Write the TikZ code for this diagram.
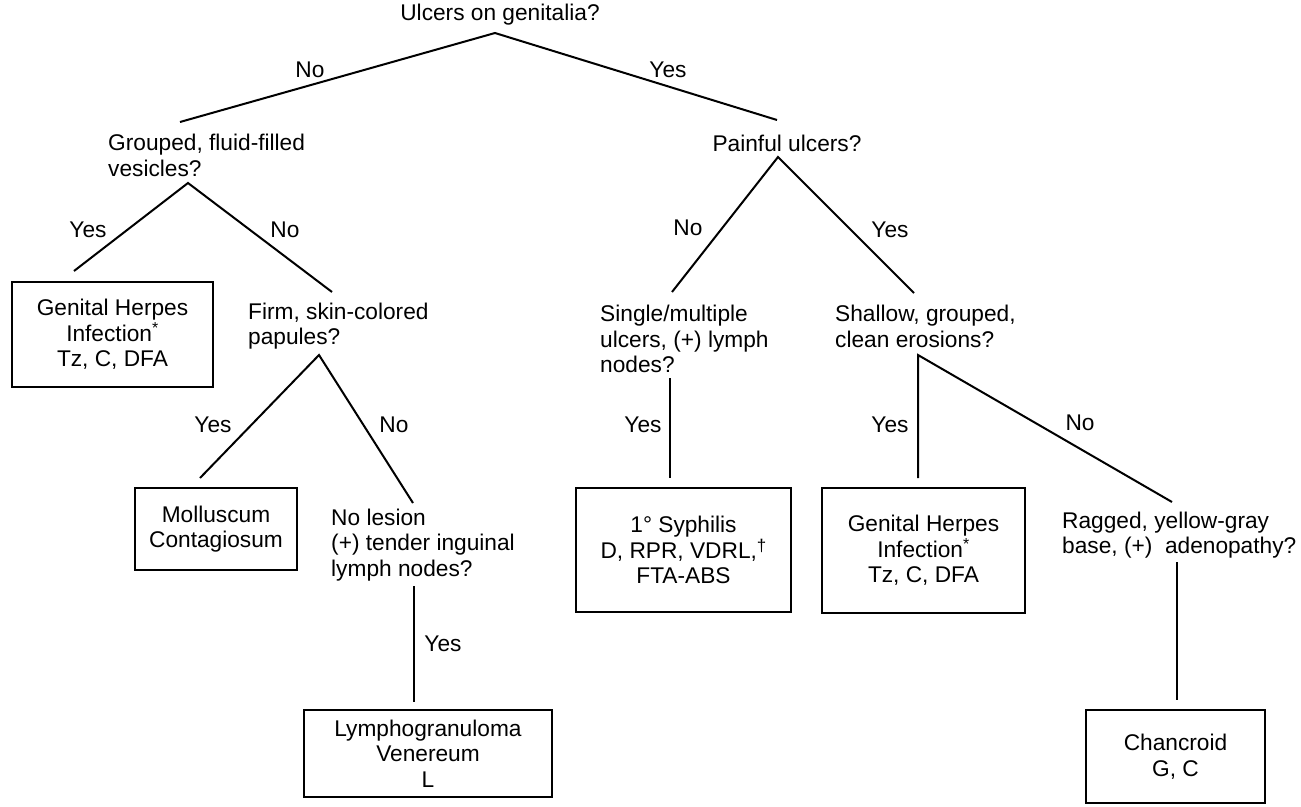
\documentclass[tikz,border=0pt]{standalone}
\usepackage{fontspec}
\setmainfont{Liberation Sans}
\begin{document}
\begin{tikzpicture}[
    x=1pt, y=-1pt,
    every node/.style={font=\fontsize{22.7}{25.5}\selectfont, inner sep=0pt},
    question/.style={anchor=west, align=left},
    result/.style={draw, line width=2.6pt, align=center},
    branch/.style={line width=2pt}
]
    \useasboundingbox (0,0) rectangle (1301,806);

    % Questions
    \node (q0) at (500, 15) {Ulcers on genitalia?};
    \node[question] (q1) at (108, 155.5) {Grouped, fluid-filled\\vesicles?};
    \node[question] (q2) at (248, 326) {Firm, skin-colored\\papules?};
    \node[question] (q3) at (331, 545) {No lesion\\(+) tender inguinal\\lymph nodes?};
    \node (q4) at (787, 143) {Painful ulcers?};
    \node[question] (q5) at (600, 339) {Single/multiple\\ulcers, (+) lymph\\nodes?};
    \node[question] (q6) at (835, 326.5) {Shallow, grouped,\\clean erosions?};
    \node[question] (q7) at (1062, 535) {Ragged, yellow-gray\\base, (+)\ \ adenopathy?};

    % Results
    \node[result, minimum width=201, minimum height=105] (herpesA) at (112.5, 334.5)
        {Genital Herpes\\Infection\textsuperscript{*}\\Tz, C, DFA};
    \node[result, minimum width=162, minimum height=82] (mollusc) at (216, 529)
        {Molluscum\\Contagiosum};
    \node[result, minimum width=248, minimum height=87] (lgv) at (428, 753.5)
        {Lymphogranuloma\\Venereum\\L};
    \node[result, minimum width=215, minimum height=124] (syph) at (683.5, 550)
        {1° Syphilis\\D, RPR, VDRL,\raisebox{0.3em}{\fontsize{17}{17}\selectfont †}\\FTA-ABS};
    \node[result, minimum width=203, minimum height=125] (herpesB) at (923.5, 550.5)
        {Genital Herpes\\Infection\textsuperscript{*}\\Tz, C, DFA};
    \node[result, minimum width=179, minimum height=93] (chanc) at (1175.5, 756.5)
        {Chancroid\\G, C};

    % Branch points
    \coordinate (q0tip) at (495, 33);
    \coordinate (q1top) at (180, 122);
    \coordinate (q4top) at (777, 120);
    \coordinate (q1tip) at (188, 183);
    \coordinate (herpesAtop) at (74, 271);
    \coordinate (q2top) at (332, 292);
    \coordinate (q2tip) at (319, 355);
    \coordinate (mollusctop) at (200, 478);
    \coordinate (q3top) at (413, 503);
    \coordinate (q3tip) at (414, 586);
    \coordinate (lgvtop) at (414, 702);
    \coordinate (q4tip) at (778, 157);
    \coordinate (q5top) at (672, 292);
    \coordinate (q6top) at (914, 293);
    \coordinate (q5tip) at (670, 378);
    \coordinate (syphtop) at (670, 478);
    \coordinate (q6tip) at (918, 355);
    \coordinate (herpesBtop) at (918, 478);
    \coordinate (q7top) at (1172, 502);
    \coordinate (q7tip) at (1177, 562);
    \coordinate (chanctop) at (1177, 700);

    % Branches
    \draw[branch] (q1top) -- (q0tip) -- (q4top);
    \draw[branch] (herpesAtop) -- (q1tip) -- (q2top);
    \draw[branch] (mollusctop) -- (q2tip) -- (q3top);
    \draw[branch] (q3tip) -- (lgvtop);
    \draw[branch] (q5top) -- (q4tip) -- (q6top);
    \draw[branch] (q5tip) -- (syphtop);
    \draw[branch] (herpesBtop) -- (q6tip) -- (q7top);
    \draw[branch] (q7tip) -- (chanctop);

    % Answers
    \node (a0no) at (310, 70) {No};
    \node (a0yes) at (668, 70) {Yes};
    \node (a1yes) at (88, 230) {Yes};
    \node (a1no) at (285, 230) {No};
    \node (a2yes) at (213, 425) {Yes};
    \node (a2no) at (394, 425) {No};
    \node (a3yes) at (443, 644) {Yes};
    \node (a4no) at (688, 228) {No};
    \node (a4yes) at (890, 230) {Yes};
    \node (a5yes) at (643, 425) {Yes};
    \node (a6yes) at (890, 425) {Yes};
    \node (a6no) at (1080, 423) {No};

\end{tikzpicture}
\end{document}
